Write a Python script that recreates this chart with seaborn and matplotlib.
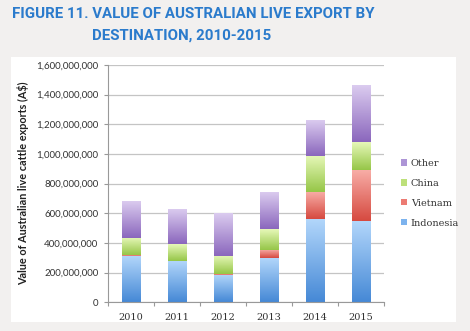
import numpy as np
import pandas as pd
import matplotlib
matplotlib.use("Agg")
import matplotlib.pyplot as plt
from matplotlib.patches import Rectangle
from matplotlib.colors import to_rgb, LinearSegmentedColormap
from matplotlib.ticker import FuncFormatter, MultipleLocator
import seaborn as sns

# ---- data (A$) ----
years = [2010, 2011, 2012, 2013, 2014, 2015]
indonesia = [315e6, 277e6, 187e6, 299e6, 560e6, 547e6]
vietnam = [3e6, 2e6, 3e6, 56e6, 183e6, 348e6]
china = [116e6, 113e6, 123e6, 138e6, 245e6, 183e6]
other = [250e6, 238e6, 290e6, 252e6, 243e6, 389e6]
series_names = ["Other", "China", "Vietnam", "Indonesia"]
series_values = [other, china, vietnam, indonesia]

title_line1 = "FIGURE 11. VALUE OF AUSTRALIAN LIVE EXPORT BY"
title_line2 = "DESTINATION, 2010-2015"
ylabel_text = "Value of Australian live cattle exports (A$)"

rows = []
for name, vals in zip(series_names, series_values):
    for y, v in zip(years, vals):
        rows.append({"year": y, "value": v, "dest": name})
df = pd.DataFrame(rows)

base = {"Other": "#ad95d6", "China": "#bde07a", "Vietnam": "#ec7b73", "Indonesia": "#7cb3ee"}
grad = {
    "Other": ("#dccdf0", "#8b67bd"),
    "China": ("#e6f8b8", "#96c648"),
    "Vietnam": ("#f8aea8", "#d64a40"),
    "Indonesia": ("#b3d7fb", "#4689d6"),
}

W, H, DPI = 470, 331, 100
fig = plt.figure(figsize=(W / DPI, H / DPI), dpi=DPI)
fig.patch.set_facecolor("#f2f0ef")

# white chart panel
panel = Rectangle((11 / W, (H - 322) / H), 445 / W, 265 / H,
                  transform=fig.transFigure, facecolor="white",
                  edgecolor="none", zorder=-10)
fig.add_artist(panel)

ax = fig.add_axes([108 / W, (H - 302.3) / H, 276 / W, 237.3 / H])
ax.set_zorder(1)
ax.set_facecolor("none")

sns.histplot(data=df, x="year", weights="value", hue="dest",
             hue_order=series_names, multiple="stack", discrete=True,
             shrink=0.41, palette=base, alpha=1, linewidth=0, ax=ax,
             legend=True)

# gradient fills on bars
for p in list(ax.patches):
    fc = to_rgb(p.get_facecolor())
    name = None
    for k, c in base.items():
        if np.allclose(fc, to_rgb(c), atol=0.02):
            name = k
    if name is None:
        continue
    x0, y0 = p.get_x(), p.get_y()
    w, h = p.get_width(), p.get_height()
    if h <= 0:
        continue
    cmap = LinearSegmentedColormap.from_list("g", [grad[name][1], grad[name][0]])
    gradient = np.linspace(0, 1, 64).reshape(-1, 1)
    im = ax.imshow(gradient, cmap=cmap, origin="lower", aspect="auto",
                   extent=[x0, x0 + w, y0, y0 + h], zorder=2, interpolation="bilinear")
    im.set_clip_path(p)
    p.set_facecolor("none")

ax.set_xlim(2009.5, 2015.5)
ax.set_ylim(0, 1.6e9)
ax.set_xticks(years)
ax.set_xticklabels([str(y) for y in years], family="DejaVu Serif", fontsize=7,
                   color="#333333")
ax.xaxis.set_minor_locator(MultipleLocator(1, offset=0.5))
ax.tick_params(axis="x", which="major", length=0, pad=8)
ax.tick_params(axis="x", which="minor", length=3, color="#999999", width=0.8)
ax.yaxis.set_major_locator(MultipleLocator(2e8))
ax.yaxis.set_major_formatter(FuncFormatter(lambda v, p: f"{v:,.0f}"))
ax.tick_params(axis="y", length=3, color="#999999", width=0.8, pad=4,
               labelsize=7, labelcolor="#333333")
for lab in ax.get_yticklabels():
    lab.set_family("Lato")

ax.grid(axis="y", color="#c4c4c4", linewidth=0.9, zorder=0)
ax.set_axisbelow(True)
for s in ["top", "right"]:
    ax.spines[s].set_visible(False)
for s in ["left", "bottom"]:
    ax.spines[s].set_color("#999999")
    ax.spines[s].set_linewidth(0.8)

ax.set_xlabel("")
ax.set_ylabel(ylabel_text, fontsize=7.8, fontweight="bold", color="#222222",
              family="Lato", labelpad=5)

sns.move_legend(ax, loc="upper left", bbox_to_anchor=(401 / W, (H - 159) / H),
                bbox_transform=fig.transFigure, frameon=False, title=None,
                borderpad=0, borderaxespad=0,
                handlelength=0.6, handleheight=0.6, handletextpad=0.4,
                labelspacing=1.12, prop={"family": "DejaVu Serif", "size": 7})
leg = ax.get_legend()
for t in leg.get_texts():
    t.set_color("#333333")

fig.text(12 / W, 1 - 7 / H, title_line1,
         ha="left", va="top", fontsize=10.8, fontweight="bold",
         color="#2b7bcc", family="Roboto")
fig.text(92 / W, 1 - 29 / H, title_line2,
         ha="left", va="top", fontsize=10.8, fontweight="bold",
         color="#2b7bcc", family="Roboto")

fig.savefig("out.png", dpi=DPI, facecolor=fig.get_facecolor())
